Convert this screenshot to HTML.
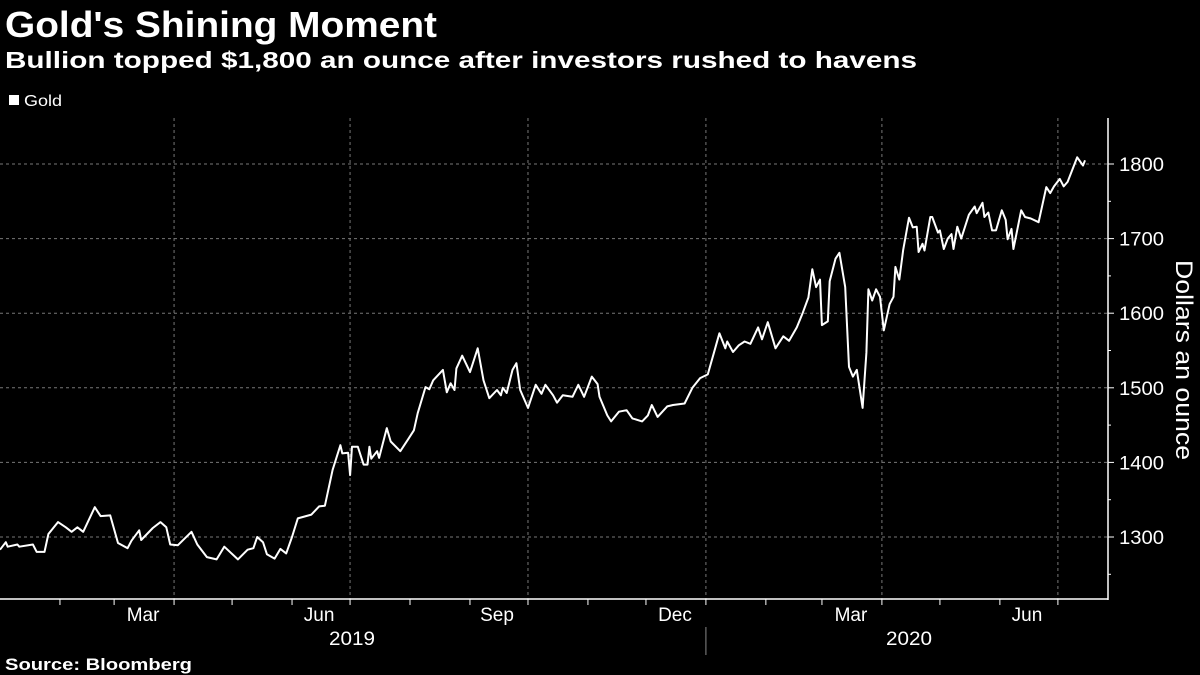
<!DOCTYPE html>
<html><head><meta charset="utf-8"><style>
html,body{margin:0;padding:0;background:#000;}
svg{display:block;font-family:"Liberation Sans",sans-serif;}
</style></head><body>
<svg id="chart" width="1200" height="675" viewBox="0 0 1200 675">
<rect width="1200" height="675" fill="#000"/>
<text x="5" y="37" fill="#fff" font-size="36" font-weight="bold" textLength="432" lengthAdjust="spacingAndGlyphs">Gold's Shining Moment</text>
<text x="5" y="68" fill="#fff" font-size="23" font-weight="bold" textLength="912" lengthAdjust="spacingAndGlyphs">Bullion topped $1,800 an ounce after investors rushed to havens</text>
<rect x="9" y="95" width="10" height="10" fill="#fff"/>
<text x="24" y="106" fill="#fff" font-size="16" textLength="38" lengthAdjust="spacingAndGlyphs">Gold</text>
<g id="grid"></g>
<g id="axes"></g>
<path id="line" fill="none" stroke="#fff" stroke-width="2" stroke-linejoin="round"/>
<text transform="translate(1176,360) rotate(90)" text-anchor="middle" fill="#fff" font-size="24" textLength="200" lengthAdjust="spacingAndGlyphs">Dollars an ounce</text>
<text x="5" y="670" fill="#fff" font-size="17" font-weight="bold" textLength="187" lengthAdjust="spacingAndGlyphs">Source: Bloomberg</text>
</svg>
<script>
const days=[0,3,4,9,10,17,19,23,25,30,34,37,40,43,49,52,57,61,66,68,72,73,79,83,86,88,92,99,102,107,112,116,123,128,131,133,136,138,142,145,148,151,154,161,165,168,172,176,177,180,181,182,185,188,190,191,192,195,196,200,202,207,211,214,216,220,222,224,229,231,233,235,236,239,243,247,250,253,257,259,260,262,265,267,269,273,277,280,282,286,288,291,296,299,302,306,309,310,314,316,320,324,327,332,335,337,340,345,348,354,358,362,366,370,372,375,376,379,382,385,388,392,394,397,401,405,408,412,415,418,420,422,424,425,428,429,432,434,437,439,441,443,446,448,449,451,453,455,457,460,462,463,465,467,470,472,474,475,477,478,481,482,485,486,488,490,492,493,495,497,501,504,505,508,509,511,513,515,518,520,521,523,524,528,530,533,537,541,543,545,548,550,552,557,560,561];
const prices=[1283,1293,1287,1290,1287,1290,1280,1280,1304,1320,1313,1307,1313,1307,1340,1328,1329,1292,1285,1295,1309,1296,1312,1320,1313,1290,1289,1307,1290,1273,1270,1287,1270,1283,1285,1300,1293,1277,1271,1284,1278,1300,1325,1330,1341,1342,1390,1423,1412,1413,1383,1421,1421,1397,1397,1421,1405,1415,1406,1446,1428,1415,1431,1443,1466,1501,1498,1510,1524,1494,1506,1497,1526,1543,1521,1553,1510,1486,1497,1490,1500,1493,1524,1533,1497,1473,1504,1492,1504,1490,1480,1490,1488,1504,1488,1515,1505,1488,1463,1455,1468,1470,1459,1455,1463,1477,1461,1475,1477,1479,1500,1513,1518,1555,1573,1553,1562,1548,1557,1562,1559,1581,1565,1588,1553,1569,1563,1581,1600,1621,1659,1635,1645,1584,1589,1643,1673,1681,1635,1528,1515,1524,1473,1547,1632,1617,1632,1622,1577,1612,1622,1662,1645,1685,1728,1715,1716,1682,1693,1684,1729,1729,1708,1711,1686,1700,1706,1686,1716,1700,1732,1743,1734,1748,1729,1735,1711,1711,1738,1725,1699,1713,1686,1738,1729,1727,1722,1769,1761,1770,1780,1770,1776,1809,1798,1805];
const yTicks=[1300,1400,1500,1600,1700,1800];
const monthStarts=[31,59,90,120,151,181,212,243,273,304,334,365,396,425,456,486,517,547];
const gridDays=[90,181,273,365,456,547];
const monthLabels=["Mar","Jun","Sep","Dec","Mar","Jun"];
const monthLabelDays=[74,165,257,349,440,531];
const yearLabels=["2019","2020"];
const yearLabelDays=[182,470];
const X=d=>d*1.934;
const Y=v=>537-(v-1300)*0.746;
const NS="http://www.w3.org/2000/svg";
const grid=document.getElementById('grid'),axes=document.getElementById('axes');
function mk(tag,attrs,parent){const e=document.createElementNS(NS,tag);for(const k in attrs)e.setAttribute(k,attrs[k]);parent.appendChild(e);return e;}
yTicks.forEach(v=>{
 const l=mk('line',{x1:0,x2:1108,y1:Y(v),y2:Y(v),stroke:'#777','stroke-dasharray':'3,3','stroke-width':1},grid);
 
 
 const t=mk('line',{x1:1108,x2:1114,y1:Y(v),y2:Y(v),stroke:'#fff'},axes);
 
 
 const tx=mk('text',{x:1119,y:Y(v)+7,fill:'#fff','font-size':19,textLength:45,lengthAdjust:'spacingAndGlyphs'},axes);
 tx.textContent=v;
 
 
});
[1250,1350,1450,1550,1650,1750].forEach(v=>{const t=mk('line',{x1:1108,x2:1111,y1:Y(v),y2:Y(v),stroke:'#fff'},axes);
 
 });
gridDays.forEach(d=>{
 const l=mk('line',{x1:X(d),x2:X(d),y1:118,y2:599,stroke:'#777','stroke-dasharray':'3,3'},grid);
 
 
});
const ya=mk('line',{x1:1108,x2:1108,y1:118,y2:600,stroke:'#fff','stroke-width':1.5},axes);


const xa=mk('line',{x1:0,x2:1108,y1:599,y2:599,stroke:'#fff','stroke-width':1.5},axes);


monthStarts.forEach(d=>{const t=mk('line',{x1:X(d),x2:X(d),y1:599,y2:605,stroke:'#fff'},axes);
 
 });
monthLabels.forEach((m,i)=>{const t=mk('text',{x:X(monthLabelDays[i]),y:621,fill:'#fff','font-size':19,'text-anchor':'middle'},axes);t.textContent=m;
 
 });
yearLabels.forEach((m,i)=>{const t=mk('text',{x:X(yearLabelDays[i]),y:645,fill:'#fff','font-size':19,'text-anchor':'middle',textLength:46,lengthAdjust:'spacingAndGlyphs'},axes);t.textContent=m;
 
 });
const sep=mk('line',{x1:X(365),x2:X(365),y1:627,y2:655,stroke:'#888'},axes);


document.getElementById('line').setAttribute('d',days.map((d,i)=>(i?'L':'M')+X(d).toFixed(1)+','+Y(prices[i]).toFixed(1)).join(''));
</script>
</body></html>
